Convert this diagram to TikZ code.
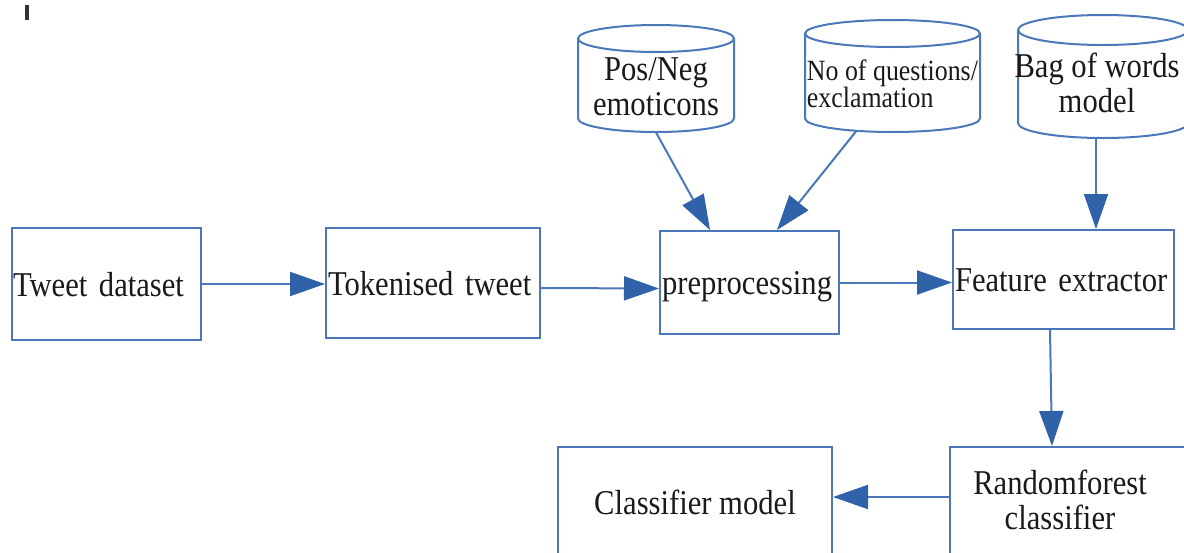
\documentclass[tikz,border=0pt]{standalone}
\usepackage{fontspec}
\setmainfont[FakeStretch=0.88]{Liberation Serif}
\usetikzlibrary{arrows.meta}
\definecolor{lnblue}{HTML}{4A78B8}
\definecolor{tipblue}{HTML}{2F62A8}
\definecolor{txt}{HTML}{1A1A1A}
\newcommand\bigf{\fontsize{17.4pt}{17.5pt}\selectfont}
\newcommand\smallf{\fontsize{14.7pt}{13.5pt}\selectfont}
\tikzset{
  ln/.style={draw=lnblue, line width=1pt},
  box/.style={ln, rectangle, inner ysep=0pt, text height=12pt, text depth=0pt, align=left, font=\bigf, text=txt},
  cylarea/.style={rectangle, inner sep=0pt},
  cyltext/.style={font=\bigf, text=txt, align=center, inner sep=0pt},
  arr/.style={draw=lnblue, line width=1pt, -{Triangle[length=17.5pt,width=12pt,color=tipblue]}}
}
\begin{document}
\begin{tikzpicture}[x=0.5pt,y=-0.5pt]
\fill[white] (0,0) rectangle (1184,552);
\useasboundingbox (0,0) rectangle (1184,552);
% small mark
\fill[black!80] (25,5) rectangle (29,20);
% cylinders
\draw[ln] (656,38.5) ellipse[x radius=39pt, y radius=6.75pt];
\draw[ln] (578,38.5) -- (578,118.5) arc[start angle=180, end angle=360, x radius=39pt, y radius=6.75pt] -- (734,38.5);
\node[cylarea, minimum width=78pt, minimum height=53.5pt,
  label={[name=pn-text, cyltext, yshift=-4.25pt]center:{Pos/Neg\\emoticons}}] (pn) at (656,78.5) {};
\draw[ln] (892.5,33.5) ellipse[x radius=43.75pt, y radius=6.75pt];
\draw[ln] (805,33.5) -- (805,118.5) arc[start angle=180, end angle=360, x radius=43.75pt, y radius=6.75pt] -- (980,33.5);
\node[cylarea, minimum width=87.5pt, minimum height=56pt,
  label={[name=nq-text, cyltext, font=\smallf, align=left, yshift=-4pt]center:{No of questions/\\exclamation}}] (nq) at (892.5,76) {};
\draw[ln] (1103,30) ellipse[x radius=42.5pt, y radius=7.5pt];
\draw[ln] (1018,30) -- (1018,123) arc[start angle=180, end angle=360, x radius=42.5pt, y radius=7.5pt] -- (1188,30);
\node[cylarea, minimum width=85pt, minimum height=61.5pt,
  label={[name=bag-text, cyltext, xshift=-3pt, yshift=-3.25pt]center:{Bag of words\\model}}] (bag) at (1103,76.5) {};
% boxes
\node[box, inner xsep=0.5pt, text width=93.5pt, minimum height=56pt] (tweet) at (106.5,284) {Tweet dataset};
\node[box, inner xsep=1pt, text width=105pt, minimum height=55pt] (tok) at (433,283) {Tokenised tweet};
\node[box, inner xsep=1pt, text width=87.5pt, minimum height=51.5pt] (pre) at (749.5,282.5) {preprocessing};
\node[box, inner xsep=1pt, text width=108.5pt, minimum height=49.5pt] (feat) at (1063.5,279.5) {Feature extractor};
\node[ln, rectangle, minimum width=125pt, minimum height=55pt,
  label={[name=rf-text, cyltext, xshift=-7.5pt, yshift=1pt]center:{Randomforest\\classifier}}] (rf) at (1075,502) {};
\node[box, align=center, minimum width=137pt, minimum height=55pt] (cm) at (695,502) {Classifier model};
% connectors
\draw[arr] (tweet.east) -- (tweet.east -| tok.west);
\draw[arr] ([yshift=-2.5pt]tok.east) -- ([yshift=-3pt]pre.west);
\draw[arr] (pre.east) -- (pre.east -| feat.west);
\draw[arr] (pn.south) -- ([xshift=-19.75pt]pre.north);
\draw[arr] ([xshift=-18.25pt,yshift=0.5pt]nq.south) -- ([xshift=13.75pt]pre.north);
\draw[arr] ([xshift=-3.5pt]bag.south) -- ([xshift=16.25pt]feat.north);
\draw[arr] ([xshift=-6.75pt]feat.south) -- ([xshift=-11.5pt]rf.north);
\draw[arr] ([yshift=2.5pt]rf.west) -- ([yshift=2.5pt]cm.east);
\end{tikzpicture}
\end{document}
